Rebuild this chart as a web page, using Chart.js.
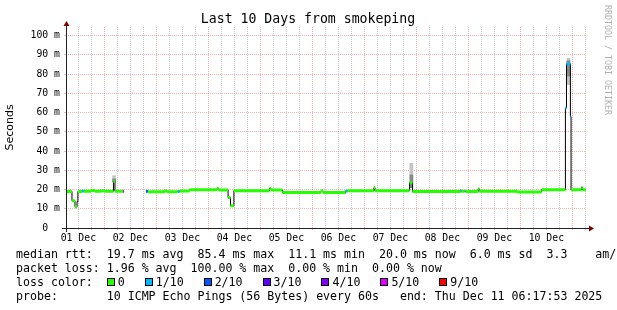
<!DOCTYPE html>
<html>
<head>
<meta charset="utf-8">
<title>Last 10 Days from smokeping</title>
<script src="https://cdn.jsdelivr.net/npm/chart.js@4.4.1/dist/chart.umd.min.js"></script>
<style>
  html, body { margin: 0; padding: 0; background: #fff; }
  #wrap { position: relative; width: 617px; height: 310px; overflow: hidden; }
  #smokeChart { position: absolute; left: 0; top: 0; }
  .leg { position: absolute; left: 16px; font: 11.6px "DejaVu Sans Mono", monospace; white-space: pre; color: #000; line-height: 14px; }
  .box { position: absolute; top: 3px; width: 6px; height: 6px; border: 1px solid #000; }
  .lab { position: absolute; top: 0; }
</style>
</head>
<body>
<div id="wrap">
  <canvas id="smokeChart" width="617" height="310"></canvas>
  <div class="leg" style="top:247px">median rtt:  19.7 ms avg  85.4 ms max  11.1 ms min  20.0 ms now  6.0 ms sd  3.3    am/s</div>
  <div class="leg" style="top:261px">packet loss: 1.96 % avg  100.00 % max  0.00 % min  0.00 % now</div>
  <div class="leg" id="lossLine" style="top:275px;width:600px;height:14px">loss color:</div>
  <div class="leg" style="top:289px">probe:       10 ICMP Echo Pings (56 Bytes) every 60s   end: Thu Dec 11 06:17:53 2025</div>
</div>
<script>
// Eje X en horas desde 01 Dec 00:00; el gráfico cubre 10 días hasta Thu Dec 11 06:17:53
const startHour = 6 + 17 / 60 + 53 / 3600;
const endHour = startHour + 240;
const dayLabels = ['01 Dec', '02 Dec', '03 Dec', '04 Dec', '05 Dec', '06 Dec', '07 Dec', '08 Dec', '09 Dec', '10 Dec'];

// Colores de pérdida (índice = nivel de pérdida de la leyenda)
const lossLabels = ['0', '1/10', '2/10', '3/10', '4/10', '5/10', '9/10'];
const lossColors = ['#26ff00', '#00b8ff', '#0059ff', '#5e00ff', '#7e00ff', '#dd00ff', '#ff0000'];

// Mediana RTT por tramos: inicio, fin (horas), valor (ms), nivel de pérdida
const segFrom = [6.30, 9.06, 10.45, 11.4, 11.8, 13.7, 14.6, 17.8, 19.7, 22.5, 24.0, 28.2, 28.9, 32.6,
  43.2, 44.1, 52.0, 52.9, 57.8, 58.7, 63.3, 76.0, 76.7, 81.1, 82.2, 83.8, 100.2, 100.9, 106.2, 124.0,
  124.9, 135.3, 136.2, 148.4, 148.9, 164.9, 166.2, 188.4, 188.9, 190.2, 190.7, 196.5, 197.0, 214.5,
  225.8, 236.8, 237.3, 239.1, 239.4, 244.2, 244.7];
const segTo = [9.06, 10.45, 11.4, 11.8, 13.7, 14.6, 17.8, 19.7, 22.5, 24.0, 28.2, 28.9, 32.6, 33.1,
  44.1, 52.0, 52.9, 57.8, 58.7, 63.3, 76.0, 76.7, 81.1, 82.2, 83.8, 100.2, 100.9, 106.2, 124.0, 124.9,
  135.3, 136.2, 148.4, 148.9, 164.9, 166.2, 188.4, 188.9, 190.2, 190.7, 196.5, 197.0, 214.5, 225.8,
  236.8, 237.3, 239.1, 239.4, 244.2, 244.7, 246.3];
const segMs = [19.0, 14.2, 11.1, 13.7, 19.0, 19.2, 19.1, 19.5, 19.1, 19.4, 19.1, 24.2, 19.1, 19.1,
  19.1, 18.9, 19.4, 18.9, 19.0, 19.3, 19.9, 20.6, 19.8, 15.8, 11.6, 19.4, 20.6, 19.8, 18.5, 19.4,
  18.4, 19.2, 19.4, 21.0, 19.4, 23.5, 19.0, 19.4, 19.1, 19.2, 19.0, 20.4, 19.1, 18.7,
  19.9, 62.4, 85.3, 57.9, 19.9, 21.0, 19.9];
const segLoss = [0, 0, 0, 0, 0, 1, 0, 0, 0, 0, 0, 0, 0, 5,
  2, 0, 0, 0, 1, 0, 0, 0, 0, 0, 0, 0, 0, 0, 0, 0,
  0, 1, 0, 0, 0, 0, 0, 1, 0, 1, 0, 0, 0, 0,
  0, 1, 1, 1, 0, 0, 0];

// Humo (dispersión de los pings) en los picos: hora, mínimo, máximo
const smokeHour = [28.5, 165.7, 238.2];
const smokeLightLo = [24.0, 23.0, 74.5];
const smokeLightHi = [27.2, 33.6, 88.2];
const smokeDarkLo = [24.0, 21.0, 79.0];
const smokeDarkHi = [25.5, 27.6, 87.0];

const yMax = 104.5;
const majorGrid = 'rgba(222, 79, 79, 0.42)';
const minorGrid = 'rgba(143, 143, 143, 0.45)';
const monoFont = '"DejaVu Sans Mono", monospace';

// Línea negra continua de la mediana (escalonada), con hueco donde faltan datos
const medianLine = [];
segFrom.forEach((from, i) => {
    medianLine.push({ x: from, y: segMs[i] });
    const next = segFrom[i + 1];
    if (next === undefined || next !== segTo[i]) {
        medianLine.push({ x: segTo[i], y: segMs[i] });
        if (next !== undefined) medianLine.push({ x: (segTo[i] + next) / 2, y: null });
    }
});

// Banda de color por nivel de pérdida
const bandSets = [];
lossColors.forEach((color, level) => {
    const pts = [];
    segFrom.forEach((from, i) => {
        if (segLoss[i] !== level) return;
        pts.push({ x: from, y: segMs[i] }, { x: segTo[i], y: segMs[i] }, { x: segTo[i], y: null });
    });
    if (pts.length) {
        bandSets.push({
            type: 'line', label: lossLabels[level], data: pts, borderColor: color,
            borderWidth: 3, borderCapStyle: 'butt', pointRadius: 0, spanGaps: false, order: 1
        });
    }
});

const smokeLight = smokeHour.map((h, i) => ({ x: h, y: [smokeLightLo[i], smokeLightHi[i]] }));
const smokeDark = smokeHour.map((h, i) => ({ x: h, y: [smokeDarkLo[i], smokeDarkHi[i]] }));

// Ejes con flechas, título y marca lateral al estilo RRDtool
const rrdDecor = {
    id: 'rrdDecor',
    afterDatasetsDraw(chart) {
        const { ctx, chartArea: a } = chart;
        const x0 = a.left + 0.5;
        const y0 = Math.round(a.bottom) + 0.5;
        ctx.save();
        ctx.strokeStyle = '#212121';
        ctx.lineWidth = 1;
        ctx.beginPath();
        ctx.moveTo(x0, a.bottom + 4);
        ctx.lineTo(x0, a.top - 3);
        ctx.moveTo(a.left - 4, y0);
        ctx.lineTo(a.right + 3, y0);
        ctx.stroke();
        ctx.fillStyle = '#800000';
        ctx.beginPath();
        ctx.moveTo(x0 - 3, a.top - 1);
        ctx.lineTo(x0 + 3, a.top - 1);
        ctx.lineTo(x0, a.top - 6);
        ctx.closePath();
        ctx.fill();
        ctx.beginPath();
        ctx.moveTo(a.right + 3, y0 - 3);
        ctx.lineTo(a.right + 3, y0 + 3);
        ctx.lineTo(a.right + 8, y0);
        ctx.closePath();
        ctx.fill();
        ctx.restore();
    },
    afterDraw(chart) {
        const ctx = chart.ctx;
        ctx.save();
        ctx.fillStyle = '#000';
        ctx.font = '13.2px ' + monoFont;
        ctx.textAlign = 'center';
        ctx.textBaseline = 'middle';
        ctx.fillText('Last 10 Days from smokeping', 308, 20);
        ctx.translate(607.5, 5);
        ctx.rotate(Math.PI / 2);
        ctx.font = '8.3px ' + monoFont;
        ctx.fillStyle = '#b0b0b0';
        ctx.textAlign = 'left';
        ctx.fillText('RRDTOOL / TOBI OETIKER', 0, 0);
        ctx.restore();
    }
};

new Chart(document.getElementById('smokeChart'), {
    type: 'line',
    data: {
        datasets: [
            ...bandSets,
            {
                type: 'line', label: 'median rtt', data: medianLine, borderColor: '#000',
                borderWidth: 1, stepped: 'before', pointRadius: 0, spanGaps: false, order: 2
            },
            {
                type: 'bar', label: 'smoke', data: smokeDark, backgroundColor: '#8a8a8a',
                barThickness: 3, grouped: false, order: 3
            },
            {
                type: 'bar', label: 'smoke', data: smokeLight, backgroundColor: '#c4c4c4',
                barThickness: 3, grouped: false, order: 4
            }
        ]
    },
    options: {
        responsive: false,
        animation: false,
        devicePixelRatio: 1,
        layout: { padding: { left: 0, right: 31, top: 27, bottom: 0 } },
        plugins: {
            legend: { display: false },
            tooltip: { enabled: false }
        },
        scales: {
            x: {
                type: 'linear',
                min: startHour,
                max: endHour,
                offset: false,
                afterBuildTicks: function(axis) {
                    const ticks = [];
                    for (let h = 12; h <= endHour; h += 6) ticks.push({ value: h });
                    axis.ticks = ticks;
                },
                afterFit: function(scale) { scale.height = 82; },
                ticks: {
                    autoSkip: false,
                    maxRotation: 0,
                    padding: 3,
                    color: '#000',
                    font: { family: monoFont, size: 9.8 },
                    callback: function(value) {
                        if ((value - 12) % 24 !== 0) return '';
                        return dayLabels[(value - 12) / 24] || '';
                    }
                },
                grid: {
                    offset: false,
                    color: (c) => (c.tick && c.tick.value % 24 === 0 ? majorGrid : minorGrid),
                    tickColor: (c) => (c.tick && c.tick.value % 24 === 0 ? majorGrid : minorGrid),
                    tickLength: 2,
                    drawTicks: true
                },
                border: { display: false, dash: [1, 1] }
            },
            y: {
                min: 0,
                max: yMax,
                afterBuildTicks: function(axis) {
                    const ticks = [];
                    for (let v = 0; v <= 100; v += 5) ticks.push({ value: v });
                    axis.ticks = ticks;
                },
                afterFit: function(scale) { scale.width = 66; },
                ticks: {
                    padding: 4,
                    color: '#000',
                    font: { family: monoFont, size: 9.8 },
                    callback: function(value) {
                        if (value % 10 !== 0) return '';
                        return value === 0 ? '0  ' : value + ' m';
                    }
                },
                grid: {
                    color: (c) => (c.tick && c.tick.value % 10 === 0 ? majorGrid : minorGrid),
                    tickColor: (c) => (c.tick && c.tick.value % 10 === 0 ? majorGrid : minorGrid),
                    tickLength: 2,
                    drawTicks: true
                },
                border: { display: false, dash: [1, 1] },
                title: {
                    display: true,
                    text: 'Seconds',
                    color: '#000',
                    font: { family: '"DejaVu Sans", sans-serif', size: 11 },
                    padding: { top: 4, bottom: 0 }
                }
            }
        }
    },
    plugins: [rrdDecor]
});

// Leyenda de colores de pérdida
const lossLine = document.getElementById('lossLine');
const charW = 6.98;
let bx = 13 * charW;
lossLabels.forEach((label, i) => {
    const box = document.createElement('span');
    box.className = 'box';
    box.style.left = bx + 'px';
    box.style.background = lossColors[i];
    lossLine.appendChild(box);
    const txt = document.createElement('span');
    txt.className = 'lab';
    txt.style.left = (bx + 11) + 'px';
    txt.textContent = label;
    lossLine.appendChild(txt);
    bx += 11 + label.length * charW + 20;
});
</script>
</body>
</html>
